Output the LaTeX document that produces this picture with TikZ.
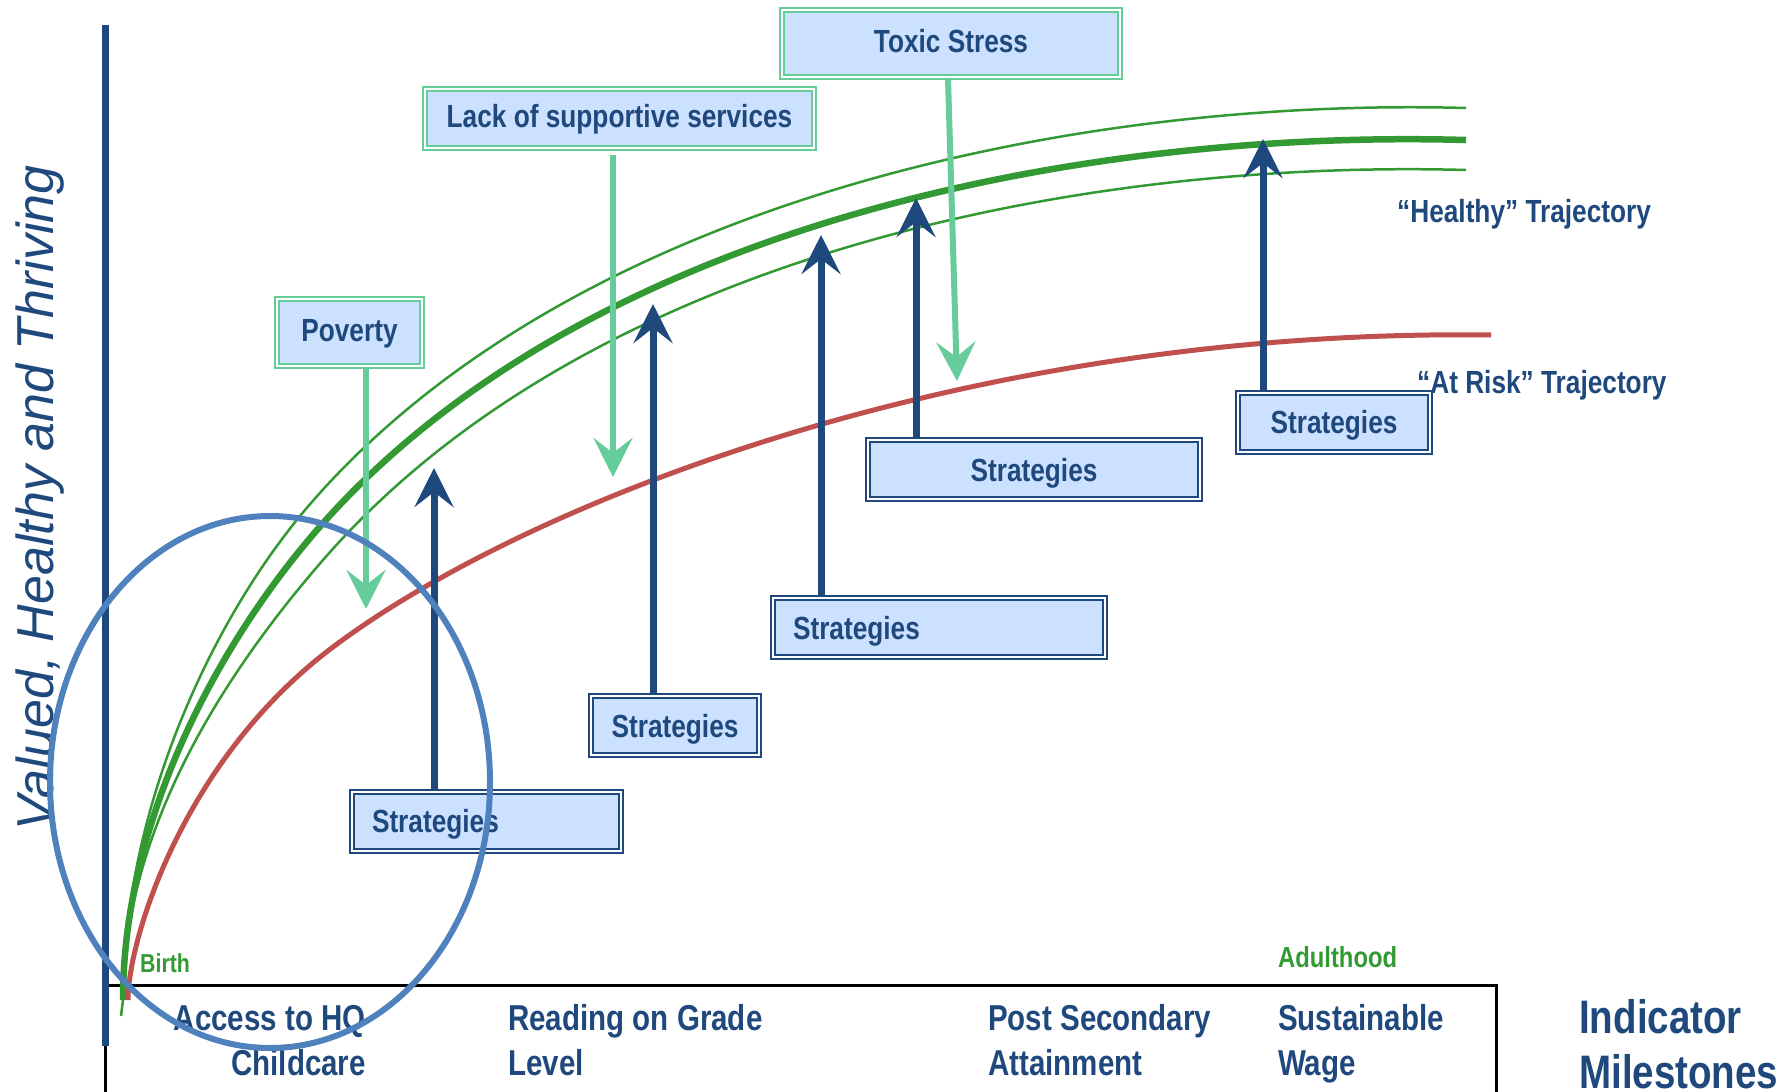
\documentclass[tikz,border=0pt]{standalone}
\usepackage{fontspec}
\newfontfamily\narrowsans[FakeStretch=0.82]{Liberation Sans}
\newfontfamily\plainsans{Liberation Sans}
\usetikzlibrary{positioning,calc,arrows.meta}
\definecolor{deepblue}{HTML}{1F497D}
\definecolor{leafgreen}{HTML}{339933}
\definecolor{riskred}{HTML}{C0504D}
\definecolor{mint}{HTML}{66CC99}
\definecolor{paleblue}{HTML}{CCE0FF}
\definecolor{ringblue}{HTML}{4F81BD}
\tikzset{>={Stealth[length=39pt,width=39pt,inset=15pt]},
  boxfont/.style={font=\narrowsans\bfseries\fontsize{32}{36}\selectfont,text=deepblue},
  threat/.style={boxfont,draw=mint,double=white,line width=2pt,double distance=2pt,fill=paleblue,inner sep=0pt,text depth=5pt},
  strat/.style={boxfont,draw=deepblue,double=white,line width=2pt,double distance=2pt,fill=paleblue,inner xsep=20pt,inner ysep=0pt,minimum height=59pt,text depth=0pt},
  uparrow/.style={draw=deepblue,line width=7pt,->},
  downarrow/.style={draw=mint,line width=6pt,->},
  healthy/.style={draw=leafgreen,line width=2.5pt},
  milestone/.style={font=\narrowsans\bfseries\fontsize{36}{45}\selectfont,text=deepblue,inner sep=0pt},
  stage/.style={text=leafgreen,inner sep=0pt},
  traj/.style={boxfont,inner sep=0pt}}

\begin{document}
\begin{tikzpicture}[x=1pt,y=-1pt]
\useasboundingbox (0,0) rectangle (1791,1092);
\draw[line width=3pt] (105,1092) -- (105,985) -- (1496,985) -- (1496,1092);
\coordinate (ytop) at (105,25);
\coordinate (ybot) at (105,1046);
\draw[deepblue,line width=7pt] (ybot) -- (ytop);
\node[rotate=90,anchor=base,inner sep=0pt,text=deepblue,font=\plainsans\itshape\fontsize{52}{60}\selectfont] (ylabel) at (53,498) {Valued, Healthy and Thriving};

\begin{scope}[shift={(123,1000)},yscale=-1]
\draw[healthy] (-2,-16) -- (0,0) .. controls (0,190) and (89,383) .. (188,497)
  .. controls (448,796) and (943,903) .. (1343,892);
\draw[healthy,line width=6.5pt] (0,0) .. controls (0,180) and (95,356) .. (194,470)
  .. controls (454,769) and (943,871) .. (1343,860);
\draw[healthy] (0,0) .. controls (0,170) and (101,326) .. (200,440)
  .. controls (460,739) and (943,841) .. (1343,830);
\end{scope}
\begin{scope}[shift={(128,1000)},yscale=-1]
\draw[riskred,line width=5pt] (0,0) .. controls (0,60) and (55,240.5) .. (205,353)
  .. controls (405,503) and (850,672) .. (1363,665);
\end{scope}

\node[threat,minimum width=338pt,minimum height=67pt] (toxic) at (951,43.5) {Toxic Stress};
\node[threat,minimum width=389pt,minimum height=59pt] (lack) at (619.5,118.5) {Lack of supportive services};
\node[threat,minimum width=145pt,minimum height=67pt] (poverty) at (349.5,332.5) {Poverty};
\coordinate (povtip) at (366,609);
\coordinate (lacktip) at (613,477);
\coordinate (toxtip) at (957,381);
\draw[downarrow] (poverty.south -| povtip) -- (povtip);
\draw[downarrow] ([yshift=-6pt]lack.south -| lacktip) -- (lacktip);
\draw[downarrow] ([xshift=-3pt]toxic.south) -- (toxtip);

\node[strat,text width=229pt,align=left] (strat1) at (486.5,821) {Strategies};
\node[strat,text width=128pt,align=center] (strat2) at (675,725.5) {Strategies};
\node[strat,text width=292pt,align=left] (strat3) at (939,627.5) {Strategies};
\node[strat,text width=292pt,align=center] (strat4) at (1034,469.5) {Strategies};
\node[strat,text width=152pt,align=center] (strat5) at (1334,422) {Strategies};
\coordinate (tip1) at (434,468);
\coordinate (tip2) at (653,304);
\coordinate (tip3) at (821,235);
\coordinate (tip4) at (916,198);
\coordinate (tip5) at (1263,139);
\foreach \i in {1,...,5}
  \draw[uparrow] (strat\i.north -| tip\i) -- (tip\i);

\node[traj,anchor=base west] (healthylbl) at (1397,222) {“Healthy” Trajectory};
\node[traj,anchor=base west] (risklbl) at (1417,393) {“At Risk” Trajectory};
\node[stage,anchor=base west,font=\narrowsans\bfseries\fontsize{26}{30}\selectfont] (birth) at (140,972) {Birth};
\node[stage,anchor=base west,font=\narrowsans\bfseries\fontsize{29}{32}\selectfont] (adult) at (1278,967) {Adulthood};

\node[milestone,anchor=base east,align=right] (hq) at (366,1075) {Access to HQ\\Childcare};
\node[milestone,anchor=base west,align=left] (reading) at (508,1075) {Reading on Grade\\Level};
\node[milestone,anchor=base west,align=left] (postsec) at (988,1075) {Post Secondary\\Attainment};
\node[milestone,anchor=base west,align=left] (wage) at (1278,1075) {Sustainable\\Wage};
\node[milestone,anchor=base west,align=left,font=\narrowsans\bfseries\fontsize{47}{55}\selectfont] (indicator) at (1579,1088) {Indicator\\Milestones};

\draw[ringblue,line width=6pt] (270,782) ellipse [x radius=220pt,y radius=266pt];
\end{tikzpicture}
\end{document}
